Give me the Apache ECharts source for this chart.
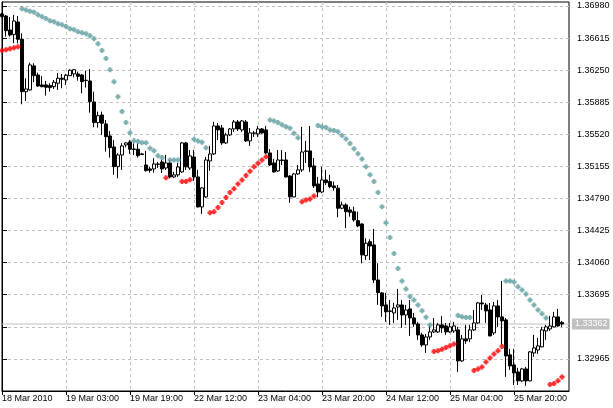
<!DOCTYPE html>
<html><head><meta charset="utf-8">
<script src="https://cdn.jsdelivr.net/npm/echarts@6/dist/echarts.min.js"></script>
<style>html,body{margin:0;padding:0;background:#fff}#c{width:613px;height:408px}</style>
</head><body><div id="c"></div>
<script>
// x tick positions (bar index) and their labels
const xTickBars = [0, 16, 32, 48, 64, 80, 96, 112, 128];
const xTickLabels = ['18 Mar 2010', '19 Mar 03:00', '19 Mar 19:00', '22 Mar 12:00', '23 Mar 04:00', '23 Mar 20:00', '24 Mar 12:00', '25 Mar 04:00', '25 Mar 20:00'];
// y tick labels
const yTickValues = [1.32965, 1.33330, 1.33695, 1.34060, 1.34425, 1.34790, 1.35155, 1.35520, 1.35885, 1.36250, 1.36615, 1.36980];

const open = [
1.36889,1.36866,1.36707,1.36654,1.36798,1.36601,1.36005,1.36025,1.36298,1.36195,
1.36082,1.36082,1.36074,1.36062,1.36101,1.36158,1.36138,1.36187,1.36207,1.36207,
1.36195,1.36135,1.36127,1.35888,1.35653,1.35740,1.35638,1.35501,1.35376,1.35152,
1.35285,1.35399,1.35433,1.35353,1.35350,1.35297,1.35171,1.35126,1.35126,1.35183,
1.35206,1.35137,1.35194,1.35035,1.35058,1.35092,1.35422,1.35137,1.35262,1.35035,
1.34694,1.34808,1.35217,1.35297,1.35615,1.35592,1.35422,1.35513,1.35581,1.35661,
1.35570,1.35661,1.35445,1.35536,1.35524,1.35581,1.35570,1.35308,1.35194,1.35103,
1.35228,1.35228,1.35046,1.34808,1.35069,1.35115,1.35331,1.35331,1.35160,1.34955,
1.34864,1.35001,1.34982,1.34933,1.34907,1.34679,1.34717,1.34660,1.34640,1.34538,
1.34500,1.34140,1.34299,1.34262,1.33863,1.33716,1.33579,1.33511,1.33488,1.33556,
1.33579,1.33465,1.33534,1.33431,1.33363,1.33238,1.33124,1.33215,1.33272,1.33272,
1.33352,1.33340,1.33272,1.33283,1.33295,1.32942,1.33193,1.33193,1.33295,1.33374,
1.33602,1.33579,1.33522,1.33261,1.33568,1.33443,1.33409,1.33011,1.32897,1.32817,
1.32715,1.32851,1.32715,1.33033,1.33067,1.33102,1.33283,1.33306,1.33329,1.33443,
1.33380];
const close = [
1.36861,1.36699,1.36650,1.36809,1.36601,1.36005,1.36036,1.36309,1.36187,1.36070,
1.36062,1.36055,1.36051,1.36112,1.36158,1.36146,1.36192,1.36249,1.36255,1.36180,
1.36119,1.36131,1.35892,1.35653,1.35732,1.35646,1.35493,1.35368,1.35152,1.35285,
1.35388,1.35422,1.35350,1.35348,1.35277,1.35291,1.35107,1.35111,1.35183,1.35178,
1.35126,1.35194,1.35035,1.35058,1.35149,1.35422,1.35149,1.35274,1.35035,1.34694,
1.34910,1.35228,1.35297,1.35615,1.35570,1.35422,1.35513,1.35581,1.35661,1.35581,
1.35672,1.35445,1.35536,1.35531,1.35581,1.35536,1.35308,1.35171,1.35092,1.35228,
1.35223,1.35035,1.34808,1.35069,1.35115,1.35319,1.35326,1.35149,1.34933,1.34864,
1.35001,1.34970,1.34925,1.34913,1.34679,1.34717,1.34640,1.34633,1.34546,1.34478,
1.34148,1.34281,1.34250,1.33863,1.33719,1.33568,1.33500,1.33506,1.33545,1.33579,
1.33465,1.33522,1.33431,1.33363,1.33238,1.33124,1.33215,1.33272,1.33295,1.33352,
1.33318,1.33272,1.33329,1.33340,1.32942,1.33193,1.33170,1.33295,1.33374,1.33602,
1.33591,1.33511,1.33227,1.33568,1.33443,1.33397,1.32999,1.32885,1.32806,1.32715,
1.32851,1.32715,1.33045,1.33090,1.33113,1.33295,1.33329,1.33340,1.33443,1.33340,
1.33362];
const high = [
1.36900,1.36878,1.36855,1.36878,1.36866,1.36669,1.36158,1.36335,1.36328,1.36221,
1.36184,1.36127,1.36101,1.36138,1.36218,1.36207,1.36207,1.36260,1.36263,1.36233,
1.36207,1.36244,1.36263,1.36005,1.35778,1.35778,1.35683,1.35558,1.35456,1.35305,
1.35418,1.35430,1.35456,1.35418,1.35418,1.35308,1.35331,1.35152,1.35248,1.35206,
1.35240,1.35285,1.35223,1.35092,1.35194,1.35433,1.35433,1.35342,1.35342,1.35115,
1.34921,1.35262,1.35388,1.35661,1.35649,1.35627,1.35536,1.35592,1.35683,1.35683,
1.35683,1.35683,1.35592,1.35558,1.35615,1.35592,1.35615,1.35353,1.35240,1.35342,
1.35342,1.35319,1.35058,1.35080,1.35171,1.35604,1.35445,1.35615,1.35251,1.35035,
1.35149,1.35115,1.35058,1.34982,1.34944,1.34754,1.34736,1.34697,1.34697,1.34640,
1.34508,1.34338,1.34326,1.34444,1.34053,1.33727,1.33716,1.33636,1.33602,1.33761,
1.33636,1.33579,1.33636,1.33488,1.33386,1.33261,1.33249,1.33346,1.33431,1.33374,
1.33454,1.33374,1.33374,1.33386,1.33329,1.33238,1.33352,1.33352,1.33522,1.33613,
1.33693,1.33602,1.33602,1.33613,1.33636,1.33852,1.33431,1.33079,1.33079,1.32863,
1.32863,1.32874,1.33056,1.33238,1.33204,1.33329,1.33352,1.33454,1.33500,1.33534,
1.33397];
const low = [
1.36849,1.36631,1.36631,1.36556,1.36556,1.35862,1.35899,1.36017,1.36112,1.36059,
1.36055,1.35960,1.36005,1.36036,1.36025,1.36044,1.36082,1.36184,1.36169,1.36130,
1.35987,1.36051,1.35766,1.35600,1.35596,1.35513,1.35323,1.35255,1.35058,1.35020,
1.35115,1.35373,1.35297,1.35285,1.35255,1.35285,1.35095,1.35084,1.35084,1.35137,
1.35080,1.35115,1.35018,1.35024,1.35035,1.35080,1.35115,1.35115,1.34990,1.34688,
1.34614,1.34796,1.35103,1.35285,1.35456,1.35399,1.35410,1.35501,1.35547,1.35558,
1.35547,1.35433,1.35388,1.35490,1.35490,1.35524,1.35297,1.35160,1.35086,1.35092,
1.35171,1.35029,1.34739,1.34802,1.35058,1.35092,1.35194,1.35092,1.34910,1.34804,
1.34850,1.34944,1.34907,1.34879,1.34577,1.34668,1.34452,1.34583,1.34527,1.34463,
1.34053,1.34091,1.34091,1.33829,1.33579,1.33443,1.33386,1.33352,1.33374,1.33409,
1.33318,1.33352,1.33227,1.33329,1.33181,1.33102,1.33033,1.33181,1.33261,1.33261,
1.33261,1.33238,1.33261,1.33261,1.32817,1.32931,1.33136,1.33158,1.33283,1.33363,
1.33522,1.33374,1.33221,1.33238,1.33329,1.33124,1.32760,1.32840,1.32669,1.32669,
1.32703,1.32658,1.32709,1.32988,1.33022,1.33096,1.33181,1.33283,1.33323,1.33329,
1.33329];
// Parabolic SAR
const sar = [
1.36472,1.36483,1.36494,1.36506,1.36517,1.36949,1.36935,1.36920,1.36908,1.36881,
1.36858,1.36836,1.36813,1.36801,1.36779,1.36767,1.36745,1.36722,1.36710,1.36688,
1.36676,1.36665,1.36642,1.36608,1.36551,1.36472,1.36381,1.36255,1.36119,1.35948,
1.35778,1.35653,1.35539,1.35448,1.35437,1.35425,1.35425,1.35362,1.35334,1.35277,
1.35255,1.35027,1.35228,1.35228,1.35228,1.34982,1.34982,1.35004,1.35464,1.35445,
1.35430,1.35368,1.34629,1.34640,1.34686,1.34743,1.34800,1.34857,1.34902,1.34955,
1.35001,1.35050,1.35100,1.35152,1.35191,1.35228,1.35266,1.35683,1.35672,1.35653,
1.35630,1.35607,1.35589,1.35532,1.35482,1.34754,1.34773,1.34785,1.34819,1.35619,
1.35607,1.35596,1.35570,1.35562,1.35550,1.35505,1.35467,1.35414,1.35357,1.35300,
1.35240,1.35152,1.35061,1.34982,1.34857,1.34697,1.34515,1.34345,1.34163,1.33994,
1.33852,1.33761,1.33674,1.33636,1.33579,1.33514,1.33439,1.33352,1.33048,1.33059,
1.33075,1.33094,1.33116,1.33136,1.33458,1.33446,1.33435,1.33435,1.32832,1.32851,
1.32874,1.32931,1.32976,1.33022,1.33059,1.33105,1.33852,1.33852,1.33841,1.33787,
1.33750,1.33704,1.33636,1.33579,1.33522,1.33480,1.33431,1.32673,1.32684,1.32718,
1.32760];
const currentPrice = 1.33362;
const xMin = 0, xMax = 141.75;

const candleData = open.map((o, i) => [i, o, close[i], low[i], high[i]]);
const sarAbove = [], sarBelow = [];
sar.forEach((v, i) => { if (v > high[i]) sarAbove.push([i, v]); else sarBelow.push([i, v]); });

const FONT = '"Liberation Sans", Arial, sans-serif';
const DOT = 'path://M1,0L3,0L3,1L4,1L4,3L3,3L3,4L1,4L1,3L0,3L0,1L1,1Z';
const chart = echarts.init(document.getElementById('c'), null, { renderer: 'canvas' });
chart.setOption({
  animation: false,
  backgroundColor: '#ffffff',
  grid: { left: 2, right: 44, top: 2, bottom: 17, show: true, borderColor: '#000', borderWidth: 1,
          backgroundColor: 'transparent', containLabel: false, outerBoundsMode: 'none' },
  xAxis: {
    type: 'value', min: xMin, max: xMax, interval: 8,
    axisLine: { show: true, onZero: false, lineStyle: { color: '#000', width: 1 } },
    axisTick: { show: true, length: 4, customValues: xTickBars, lineStyle: { color: '#000' } },
    axisLabel: { show: true, customValues: xTickBars,
      formatter: v => { const k = xTickBars.indexOf(Math.round(v)); return k >= 0 ? xTickLabels[k] : ''; },
      align: 'left', margin: 3, color: '#000', fontSize: 9, fontFamily: FONT },
    splitLine: { show: true, lineStyle: { color: '#c0c0c0', type: [3, 3], width: 1 } }
  },
  yAxis: {
    type: 'value', position: 'right', min: 1.32600, max: 1.37025, interval: 0.00365,
    axisLine: { show: true, lineStyle: { color: '#000', width: 1 } },
    axisTick: { show: true, length: 5, customValues: yTickValues, lineStyle: { color: '#000' } },
    axisLabel: { show: true, customValues: yTickValues, formatter: v => v.toFixed(5),
      margin: 8, color: '#000', fontSize: 9, fontFamily: FONT },
    splitLine: { show: true, lineStyle: { color: '#c0c0c0', type: [3, 3], width: 1 } }
  },
  series: [
    {
      type: 'line', z: 1, silent: true, symbol: 'none', clip: false,
      data: [[xMin, currentPrice], [xMax, currentPrice]],
      lineStyle: { color: '#c0c0c0', type: 'solid', width: 1 },
      endLabel: { show: true, distance: 3, formatter: () => currentPrice.toFixed(5),
                  color: '#ffffff', backgroundColor: '#c0c0c0', padding: [1, 2, 1, 3],
                  fontSize: 9, fontFamily: FONT }
    },
    {
      type: 'candlestick', data: candleData, barWidth: 3, z: 3,
      itemStyle: { color: '#ffffff', color0: '#000000', borderColor: '#000000', borderColor0: '#000000',
                   borderColorDoji: '#000000', borderWidth: 1 }
    },
    { type: 'scatter', data: sarAbove, symbol: DOT, symbolSize: 5, z: 4, itemStyle: { color: '#5f9ea0' } },
    { type: 'scatter', data: sarBelow, symbol: DOT, symbolSize: 5, z: 4, itemStyle: { color: '#ff0000' } }
  ]
});
</script></body></html>
